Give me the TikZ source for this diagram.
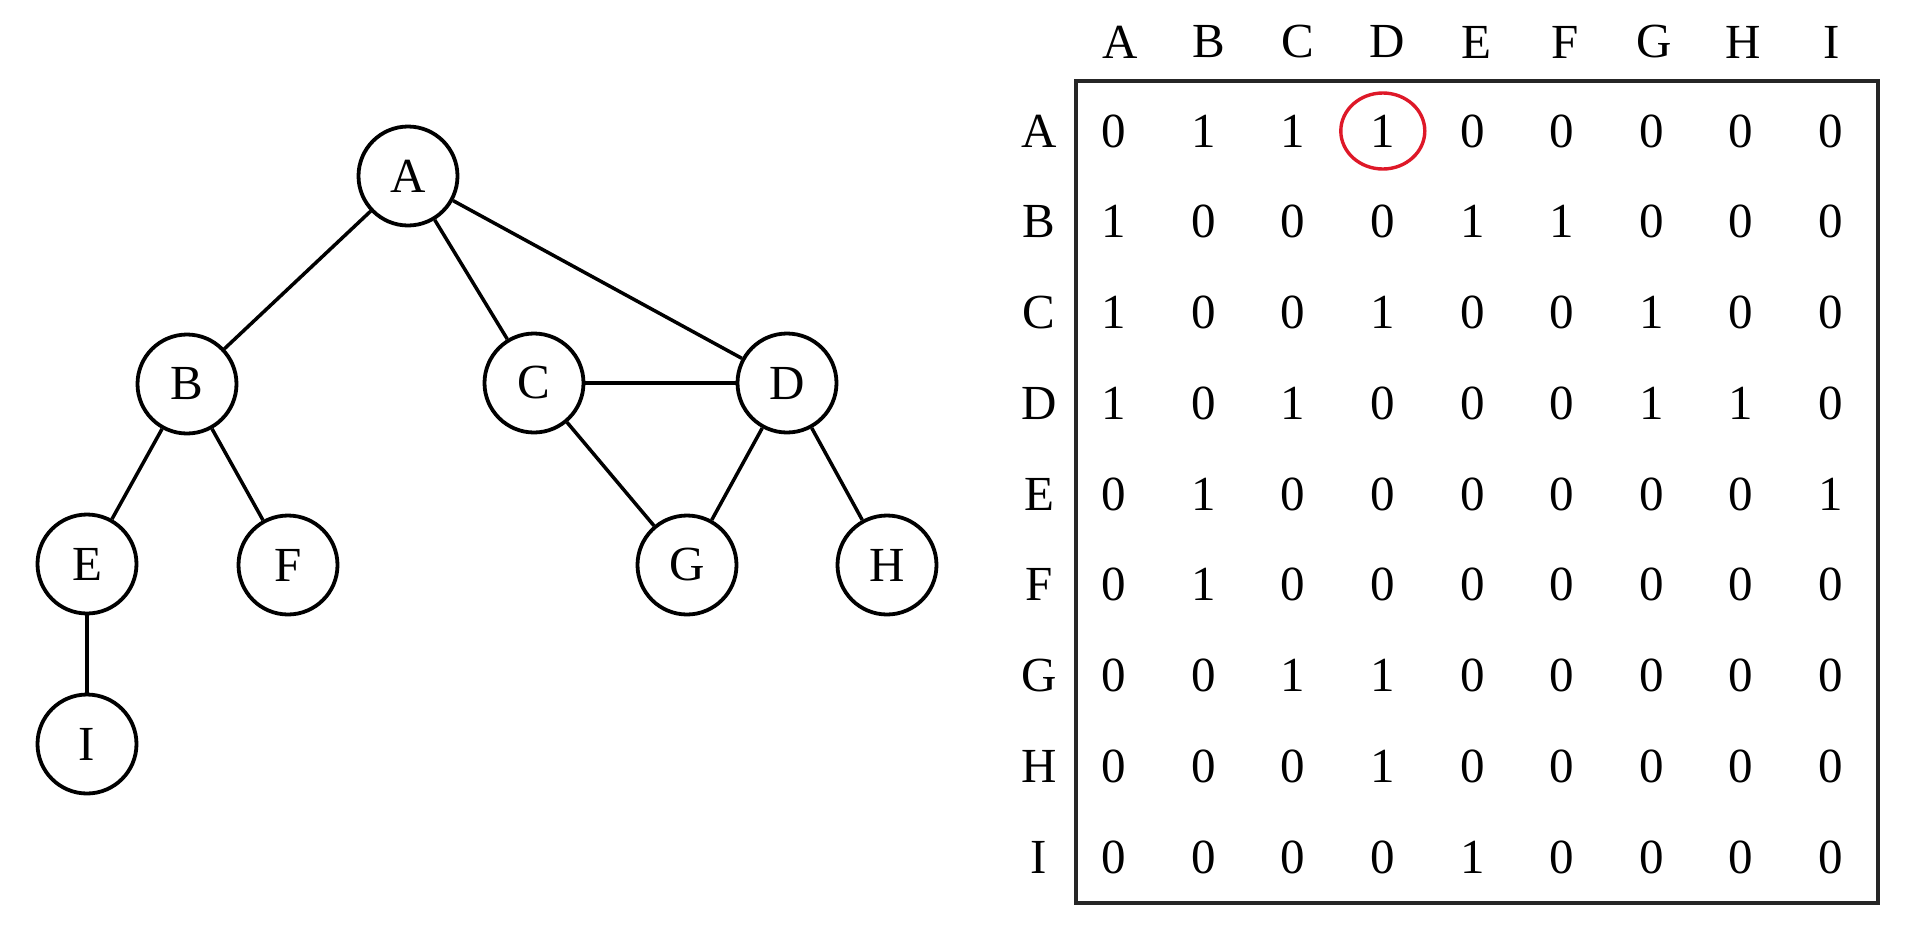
\documentclass[tikz,border=0pt]{standalone}
\usepackage{fontspec}
\setmainfont{Liberation Serif}
\begin{document}
\begin{tikzpicture}[x=1pt,y=-1pt,
  vertex/.style={circle,draw,line width=3.8pt,minimum size=99pt,inner sep=0pt,
    font=\fontsize{49}{58}\selectfont},
  edge/.style={line width=3.5pt},
  lbl/.style={inner sep=0pt,font=\fontsize{49}{58}\selectfont},
  entry/.style={inner sep=0pt,font=\fontsize{49}{58}\selectfont},
  frame/.style={line width=4.4pt,draw=black!85},
  highlight/.style={line width=3.4pt,draw={rgb,255:red,222;green,24;blue,40}}]
\useasboundingbox (0,0) rectangle (1920,946);

% graph
\node[vertex] (A) at (408,176) {A};
\node[vertex] (B) at (187,384) {B};
\node[vertex] (C) at (534,383) {C};
\node[vertex] (D) at (787,383) {D};
\node[vertex] (E) at (87,564) {E};
\node[vertex] (F) at (288,565) {F};
\node[vertex] (G) at (687,565) {G};
\node[vertex] (H) at (887,565) {H};
\node[vertex] (I) at (87,744) {I};

\draw[edge] (A) -- (B);
\draw[edge] (A) -- (C);
\draw[edge] (A) -- (D);
\draw[edge] (B) -- (E);
\draw[edge] (B) -- (F);
\draw[edge] (C) -- (D);
\draw[edge] (C) -- (G);
\draw[edge] (D) -- (G);
\draw[edge] (D) -- (H);
\draw[edge] (E) -- (I);

% adjacency matrix
\coordinate (boxNW) at (1076,81);
\coordinate (boxSE) at (1878,903);
\draw[frame] (boxNW) rectangle (boxSE);

\foreach \name [count=\j from 0] in {A,B,C,D,E,F,G,H,I} {
  \node[lbl] (col-\name) at (1120+89*\j,42) {\name};
  \node[lbl] (row-\name) at (1039,131+90.75*\j) {\name};
}

\foreach \rowvals [count=\i from 0] in {
  {0,1,1,1,0,0,0,0,0},
  {1,0,0,0,1,1,0,0,0},
  {1,0,0,1,0,0,1,0,0},
  {1,0,1,0,0,0,1,1,0},
  {0,1,0,0,0,0,0,0,1},
  {0,1,0,0,0,0,0,0,0},
  {0,0,1,1,0,0,0,0,0},
  {0,0,0,1,0,0,0,0,0},
  {0,0,0,0,1,0,0,0,0}} {
  \foreach \v [count=\j from 0] in \rowvals {
    \node[entry] (m-\i-\j) at (1114+89.6*\j,131+90.75*\i) {\v};
  }
}

% highlighted entry A-D
\draw[highlight] (m-0-3) ellipse [x radius=42pt, y radius=38pt];
\end{tikzpicture}
\end{document}
